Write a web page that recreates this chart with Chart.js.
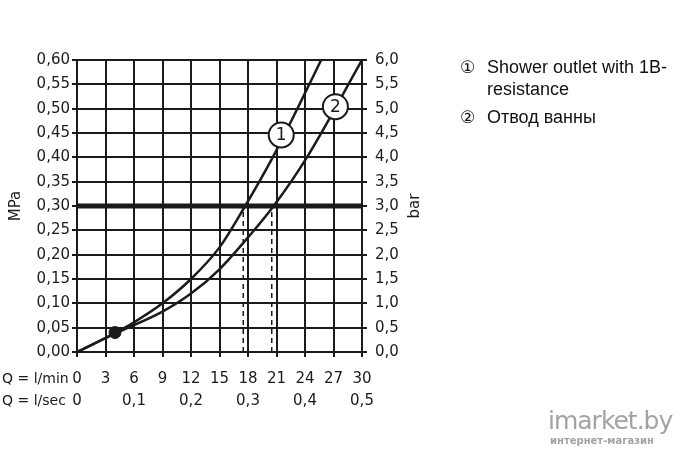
<!DOCTYPE html>
<html>
<head>
<meta charset="utf-8">
<script src="https://cdn.jsdelivr.net/npm/chart.js@4"></script>
<style>
  body { margin: 0; background: #fff; }
  #wrap { position: relative; width: 680px; height: 460px; }
  .legend { position: absolute; left: 460px; font-family: "Liberation Sans", Arial, sans-serif; font-size: 18px; color: #111; line-height: 22px; }
  .legend .num { display: inline-block; width: 27px; font-family: "DejaVu Sans", sans-serif; font-size: 17px; }
  .wm { position: absolute; left: 548px; top: 406px; color: #a3a3a3; font-family: "DejaVu Sans", sans-serif; }
</style>
</head>
<body>
<div id="wrap">
  <canvas id="myChart" width="680" height="460"></canvas>
  <div class="legend" style="top:56px"><span class="num">①</span>Shower outlet with 1B-<br><span class="num"></span>resistance</div>
  <div class="legend" style="top:106px"><span class="num">②</span>Отвод ванны</div>
  <div class="wm"><div style="font-size:25px;letter-spacing:-1px;line-height:30px">imarket.by</div><div style="font-size:10px;font-weight:bold;line-height:10px;margin-left:2px">интернет-магазин</div></div>
</div>
<script>
// flow in l/min, pressure in MPa
var flowTicks = [0, 3, 6, 9, 12, 15, 18, 21, 24, 27, 30];
var curve1Flow = [0, 4, 6, 9, 12, 15, 17.7, 20.6, 23.2, 25.7];
var curve1Press = [0, 0.039, 0.061, 0.10, 0.15, 0.215, 0.30, 0.40, 0.50, 0.60];
var curve2Flow = [0, 4, 9, 12, 15, 18.2, 20.7, 24.2, 30];
var curve2Press = [0, 0.038, 0.083, 0.12, 0.17, 0.24, 0.30, 0.40, 0.60];
var refPressure = 0.30;
var dashFlows = [17.5, 20.5];
var dotPoint = [4.0, 0.040];
var labelFlow = [21.5, 27.2];
var labelPress = [0.446, 0.504];
var labelText = ['1', '2'];

function pts(xs, ys) {
  return xs.map(function (x, i) { return { x: x, y: ys[i] }; });
}
function comma(v, d) { return v.toFixed(d).replace('.', ','); }

var axisFont = { family: 'DejaVu Sans', size: 15 };
var ink = '#1b1b1b';

var datasets = [
  {
    data: pts(labelFlow, labelPress), showLine: false, pointRadius: 12.5,
    pointBackgroundColor: '#fff', pointBorderColor: ink, pointBorderWidth: 2, order: 0
  },
  {
    data: [{ x: dotPoint[0], y: dotPoint[1] }], showLine: false, pointRadius: 6,
    pointBackgroundColor: ink, pointBorderColor: ink, order: 1
  },
  {
    data: pts(curve1Flow, curve1Press), showLine: true, borderColor: ink, borderWidth: 2.5,
    pointRadius: 0, cubicInterpolationMode: 'monotone', order: 2
  },
  {
    data: pts(curve2Flow, curve2Press), showLine: true, borderColor: ink, borderWidth: 2.5,
    pointRadius: 0, cubicInterpolationMode: 'monotone', order: 2
  },
  {
    data: [{ x: 0, y: refPressure }, { x: 30, y: refPressure }], showLine: true,
    borderColor: ink, borderWidth: 5, pointRadius: 0, order: 3
  }
];
dashFlows.forEach(function (f) {
  datasets.push({
    data: [{ x: f, y: 0 }, { x: f, y: refPressure }], showLine: true,
    borderColor: ink, borderWidth: 1.5, borderDash: [5, 4], pointRadius: 0, order: 4
  });
});

var extras = {
  id: 'extras',
  afterDatasetsDraw: function (chart) {
    var ctx = chart.ctx;
    var meta = chart.getDatasetMeta(0);
    ctx.save();
    ctx.fillStyle = ink;
    ctx.font = '17px "DejaVu Sans"';
    ctx.textAlign = 'center';
    ctx.textBaseline = 'middle';
    meta.data.forEach(function (p, i) { ctx.fillText(labelText[i], p.x, p.y + 1); });
    ctx.restore();
  },
  afterDraw: function (chart) {
    var ctx = chart.ctx, a = chart.chartArea;
    var mid = (a.top + a.bottom) / 2;
    ctx.save();
    ctx.fillStyle = ink;
    ctx.font = '15px "DejaVu Sans"';
    ctx.textBaseline = 'middle';
    ctx.textAlign = 'center';
    [[16, 'MPa'], [415, 'bar']].forEach(function (t) {
      ctx.save();
      ctx.translate(t[0], mid);
      ctx.rotate(-Math.PI / 2);
      ctx.fillText(t[1], 0, 0);
      ctx.restore();
    });
    ctx.font = '14px "DejaVu Sans"';
    ctx.textAlign = 'left';
    ctx.fillText('Q = l/min', 2, a.bottom + 27);
    ctx.fillText('Q = l/sec', 2, a.bottom + 49);
    ctx.restore();
  }
};

new Chart(document.getElementById('myChart').getContext('2d'), {
  type: 'scatter',
  data: { datasets: datasets },
  plugins: [extras],
  options: {
    responsive: false,
    animation: false,
    layout: { padding: { left: 0, top: 60, right: 268, bottom: 40 } },
    plugins: { legend: { display: false }, tooltip: { enabled: false } },
    scales: {
      x: {
        type: 'linear', min: 0, max: 30,
        afterBuildTicks: function (s) { s.ticks = flowTicks.map(function (v) { return { value: v }; }); },
        afterFit: function (s) { s.height = 68; },
        grid: { color: ink, lineWidth: 2, tickLength: 5, tickColor: ink },
        border: { color: ink, width: 2 },
        ticks: {
          color: ink, font: { family: 'DejaVu Sans', size: 15, lineHeight: 1.47 }, padding: 11, maxRotation: 0,
          callback: function (v) {
            var sec = v % 6 === 0 ? (v === 0 ? '0' : comma(v / 60, 1)) : '';
            return [String(v), sec];
          }
        }
      },
      y: {
        position: 'left', min: 0, max: 0.6,
        afterFit: function (s) { s.width = 77; },
        grid: { color: ink, lineWidth: 2, tickLength: 5, tickColor: ink },
        border: { color: ink, width: 2 },
        ticks: { stepSize: 0.05, color: ink, font: axisFont, padding: 2, callback: function (v) { return comma(v, 2); } }
      },
      y2: {
        position: 'right', min: 0, max: 6,
        afterFit: function (s) { s.width = 50; },
        grid: { drawOnChartArea: false, color: ink, lineWidth: 2, tickLength: 5, tickColor: ink },
        border: { color: ink, width: 2 },
        ticks: { stepSize: 0.5, color: ink, font: axisFont, padding: 8, callback: function (v) { return comma(v, 1); } }
      }
    }
  }
});
</script>
</body>
</html>
